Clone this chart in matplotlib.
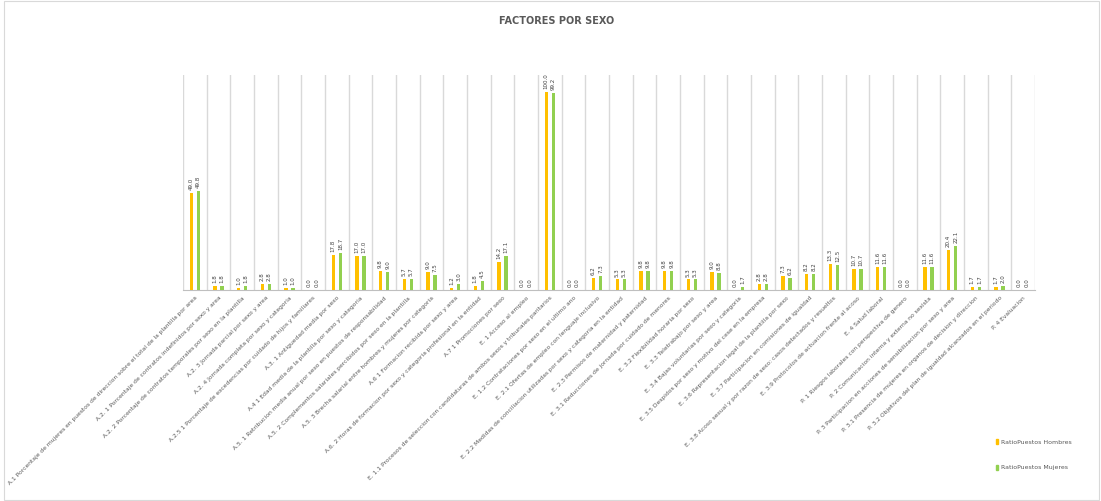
import numpy as np
import matplotlib.pyplot as plt
from matplotlib.patches import Patch, Rectangle

# categorias (eje x)
factores = [
    "A.1 Porcentaje de mujeres en puestos de direccion sobre el total de la plantilla por area",
    "A.2. 1 Porcentaje de contratos indefinidos por sexo y area",
    "A.2. 2 Porcentaje de contratos temporales por sexo en la plantilla",
    "A.2. 3 Jornada parcial por sexo y area",
    "A.2. 4 Jornada completa por sexo y categoria",
    "A.2.5 1 Porcentaje de excedencias por cuidado de hijos y familiares",
    "A.3. 1 Antiguedad media por sexo",
    "A.4 1 Edad media de la plantilla por sexo y categoria",
    "A.5. 1 Retribucion media anual por sexo en puestos de responsabilidad",
    "A.5. 2 Complementos salariales percibidos por sexo en la plantilla",
    "A.5. 3 Brecha salarial entre hombres y mujeres por categoria",
    "A.6 1 Formacion recibida por sexo y area",
    "A.6. 2 Horas de formacion por sexo y categoria profesional en la entidad",
    "A.7 1 Promociones por sexo",
    "E. 1 Acceso al empleo",
    "E. 1.1 Procesos de seleccion con candidaturas de ambos sexos y tribunales paritarios",
    "E. 1.2 Contrataciones por sexo en el ultimo ano",
    "E. 2.1 Ofertas de empleo con lenguaje inclusivo",
    "E. 2.2 Medidas de conciliacion utilizadas por sexo y categoria en la entidad",
    "E. 2.3 Permisos de maternidad y paternidad",
    "E. 3.1 Reducciones de jornada por cuidado de menores",
    "E. 3.2 Flexibilidad horaria por sexo",
    "E. 3.3 Teletrabajo por sexo y area",
    "E. 3.4 Bajas voluntarias por sexo y categoria",
    "E. 3.5 Despidos por sexo y motivo del cese en la empresa",
    "E. 3.6 Representacion legal de la plantilla por sexo",
    "E. 3.7 Participacion en comisiones de igualdad",
    "E. 3.8 Acoso sexual y por razon de sexo: casos detectados y resueltos",
    "E. 3.9 Protocolos de actuacion frente al acoso",
    "E. 4 Salud laboral",
    "P. 1 Riesgos laborales con perspectiva de genero",
    "P. 2 Comunicacion interna y externa no sexista",
    "P. 3 Participacion en acciones de sensibilizacion por sexo y area",
    "P. 3.1 Presencia de mujeres en organos de decision y direccion",
    "P. 3.2 Objetivos del plan de igualdad alcanzados en el periodo",
    "P. 4 Evaluacion",
]

hombres = [49.0, 1.8, 1.0, 2.8, 1.0, 0.0, 17.8, 17.0, 9.8, 5.7, 9.0, 1.2,
           1.8, 14.2, 0.0, 100.0, 0.0, 6.2, 5.3, 9.8, 9.8, 5.3, 9.0, 0.0,
           2.8, 7.3, 8.2, 13.3, 10.7, 11.6, 0.0, 11.6, 20.4, 1.7, 1.7, 0.0]
mujeres = [49.8, 1.8, 1.8, 2.8, 1.0, 0.0, 18.7, 17.0, 9.0, 5.7, 7.5, 3.0,
           4.5, 17.1, 0.0, 99.2, 0.0, 7.3, 5.3, 9.8, 9.8, 5.3, 8.8, 1.7,
           2.8, 6.2, 8.2, 12.5, 10.7, 11.6, 0.0, 11.6, 22.1, 1.7, 2.0, 0.0]

series = ["RatioPuestos Hombres", "RatioPuestos Mujeres"]
colores = ["#FFC000", "#92D050"]

fig = plt.figure(figsize=(11.01, 5.01), dpi=100)
fig.patches.append(Rectangle((0.004, 0.002), 0.994, 0.996, transform=fig.transFigure,
                             fill=False, edgecolor="#d9d9d9", lw=0.8))
ax = fig.add_axes([183 / 1101, 1 - 290 / 501, (1035 - 183) / 1101, (290 - 75) / 501])

x = np.arange(len(factores))
w = 0.14
b1 = ax.bar(x - 0.15, hombres, w, color=colores[0], zorder=3)
b2 = ax.bar(x + 0.15, mujeres, w, color=colores[1], zorder=3)

# etiquetas de datos
for bars, vals in ((b1, hombres), (b2, mujeres)):
    for r, v in zip(bars, vals):
        ax.text(r.get_x() + r.get_width() / 2, v + 1.5, f"{v:.1f}", rotation=90,
                ha="center", va="bottom", fontsize=4, color="#404040")

for g in np.arange(len(factores) + 1) - 0.5:
    ax.axvline(g, color="#d9d9d9", lw=1, zorder=1)

ax.set_xlim(-0.5, len(factores) - 0.5)
ax.set_ylim(0, 108.5)
ax.set_yticks([])
for s in ["top", "right", "left"]:
    ax.spines[s].set_visible(False)
ax.spines["bottom"].set_color("#bfbfbf")
ax.set_xticks(x)
ax.set_xticklabels(factores, rotation=45, ha="right", rotation_mode="anchor",
                   fontsize=4.3, color="#595959")
ax.tick_params(axis="x", length=0, pad=4)

fig.text(0.5056, 1 - 21 / 501, "FACTORES POR SEXO", ha="center", va="center",
         fontsize=7, fontweight="bold", color="#595959")

handles = [Patch(color=c, label=l) for c, l in zip(colores, series)]
fig.legend(handles=handles, loc="upper left", bbox_to_anchor=(990 / 1101, 1 - 433 / 501),
           frameon=False, fontsize=4.5, handlelength=0.4, handleheight=1.0,
           handletextpad=0.4, labelspacing=3.2, labelcolor="#595959")

fig.savefig("out.png", dpi=100)
